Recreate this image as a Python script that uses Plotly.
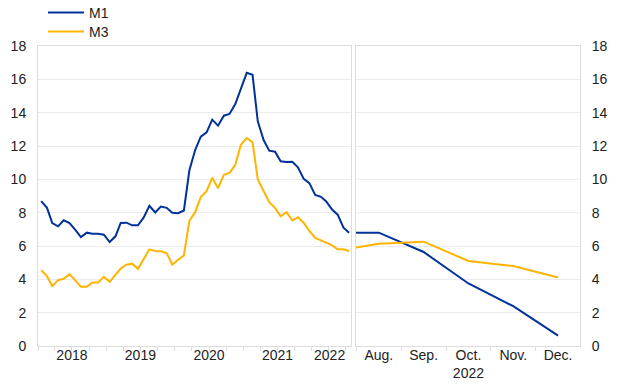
import plotly.graph_objects as go
import pandas as pd

# ---- data ----
hist_months = pd.date_range("2018-01-01", periods=55, freq="MS") + pd.Timedelta(days=17)
m1_hist = [8.69, 8.29, 7.38, 7.18, 7.54, 7.38, 6.98, 6.54, 6.80, 6.74, 6.74, 6.68,
           6.24, 6.58, 7.38, 7.40, 7.24, 7.24, 7.70, 8.41, 8.01, 8.37, 8.29, 7.99,
           7.97, 8.13, 10.53, 11.76, 12.56, 12.82, 13.58, 13.22, 13.82, 13.92, 14.52, 15.41,
           16.39, 16.27, 13.48, 12.36, 11.72, 11.66, 11.08, 11.04, 11.06, 10.72, 10.03, 9.77,
           9.07, 8.95, 8.67, 8.19, 7.88, 7.10, 6.80]
m3_hist = [4.55, 4.19, 3.59, 3.95, 4.03, 4.31, 3.95, 3.55, 3.55, 3.81, 3.81, 4.15,
           3.85, 4.25, 4.65, 4.88, 4.94, 4.63, 5.20, 5.80, 5.70, 5.68, 5.58, 4.88,
           5.18, 5.44, 7.50, 8.03, 8.93, 9.29, 10.09, 9.47, 10.27, 10.39, 10.87, 12.08,
           12.48, 12.22, 9.99, 9.33, 8.63, 8.29, 7.78, 8.03, 7.54, 7.73, 7.38, 6.90,
           6.48, 6.34, 6.20, 6.04, 5.80, 5.80, 5.70]

proj_idx = [0, 1, 2, 3, 4, 5]          # Jul .. Dec 2022
m1_proj = [6.80, 6.80, 5.64, 3.75, 2.39, 0.62]
m3_proj = [5.70, 6.14, 6.26, 5.10, 4.80, 4.11]
proj_tickvals = [1, 2, 3, 4, 5]
proj_ticktext = ["Aug.", "Sep.", "Oct.<br>2022", "Nov.", "Dec."]

year_ticks = ["2018-07-01", "2019-07-01", "2020-07-01", "2021-07-01", "2022-04-05"]
year_text = ["2018", "2019", "2020", "2021", "2022"]
y_ticks = list(range(0, 19, 2))

BLUE = "#003299"
YELLOW = "#FFB400"
GRID = "#ebebeb"
FRAME = "#dddddd"
FONT = "Liberation Sans, Arial, sans-serif"

fig = go.Figure()
fig.add_trace(go.Scatter(x=hist_months, y=m1_hist, mode="lines", name="M1", legend="legend",
                         line=dict(color=BLUE, width=2), xaxis="x", yaxis="y"))
fig.add_trace(go.Scatter(x=hist_months, y=m3_hist, mode="lines", name="M3", legend="legend2",
                         line=dict(color=YELLOW, width=2), xaxis="x", yaxis="y"))
fig.add_trace(go.Scatter(x=proj_idx, y=m1_proj, mode="lines", name="M1", showlegend=False,
                         line=dict(color=BLUE, width=2), xaxis="x2", yaxis="y2"))
fig.add_trace(go.Scatter(x=proj_idx, y=m3_proj, mode="lines", name="M3", showlegend=False,
                         line=dict(color=YELLOW, width=2), xaxis="x2", yaxis="y2"))

axis_common = dict(showline=True, linecolor=FRAME, linewidth=1, mirror=True,
                   zeroline=False, automargin=False,
                   tickfont=dict(size=14, color="#222222", family=FONT))

L, R = 38, 40
PW = 620 - L - R

legend_common = dict(xref="container", yref="container", xanchor="left", yanchor="middle",
                     orientation="v", bgcolor="rgba(0,0,0,0)",
                     font=dict(size=14, family=FONT, color="#222222"), itemwidth=36)

fig.update_layout(
    width=620, height=387,
    margin=dict(l=L, r=R, t=46, b=41, autoexpand=False),
    paper_bgcolor="white", plot_bgcolor="white",
    font=dict(family=FONT, size=14, color="#222222"),
    showlegend=True,
    legend=dict(x=43 / 620, y=1 - 13 / 387, **legend_common),
    legend2=dict(x=43 / 620, y=1 - 32 / 387, **legend_common),
    xaxis=dict(domain=[0, (351 - L) / PW], type="date",
               range=["2018-01-01", "2022-07-28"],
               tickvals=year_ticks, ticktext=year_text, ticks="",
               showgrid=False, ticklabelstandoff=-4,
               minor=dict(ticks="outside", dtick="M3", tick0="2018-01-01",
                          ticklen=4, tickcolor=FRAME, showgrid=False),
               anchor="y", **axis_common),
    yaxis=dict(domain=[0, 1], range=[0, 18], tickvals=y_ticks, ticks="",
               showgrid=True, gridcolor=GRID, anchor="x", side="left",
               ticklabelstandoff=8, **axis_common),
    xaxis2=dict(domain=[(356 - L) / PW, 1], range=[0.49, 5.49],
                tickvals=proj_tickvals, ticktext=proj_ticktext, ticks="",
                showgrid=False, ticklabelstandoff=-4,
                minor=dict(ticks="outside", tickvals=[0.5, 1.5, 2.5, 3.5, 4.5],
                           ticklen=4, tickcolor=FRAME, showgrid=False),
                anchor="y2", **axis_common),
    yaxis2=dict(domain=[0, 1], range=[0, 18], tickvals=y_ticks, ticks="",
                showgrid=True, gridcolor=GRID, anchor="x2", side="right",
                ticklabelstandoff=8, **axis_common),
)

fig.write_html("out.html", config={"displayModeBar": False},
               post_script="document.body.style.margin='0';")
